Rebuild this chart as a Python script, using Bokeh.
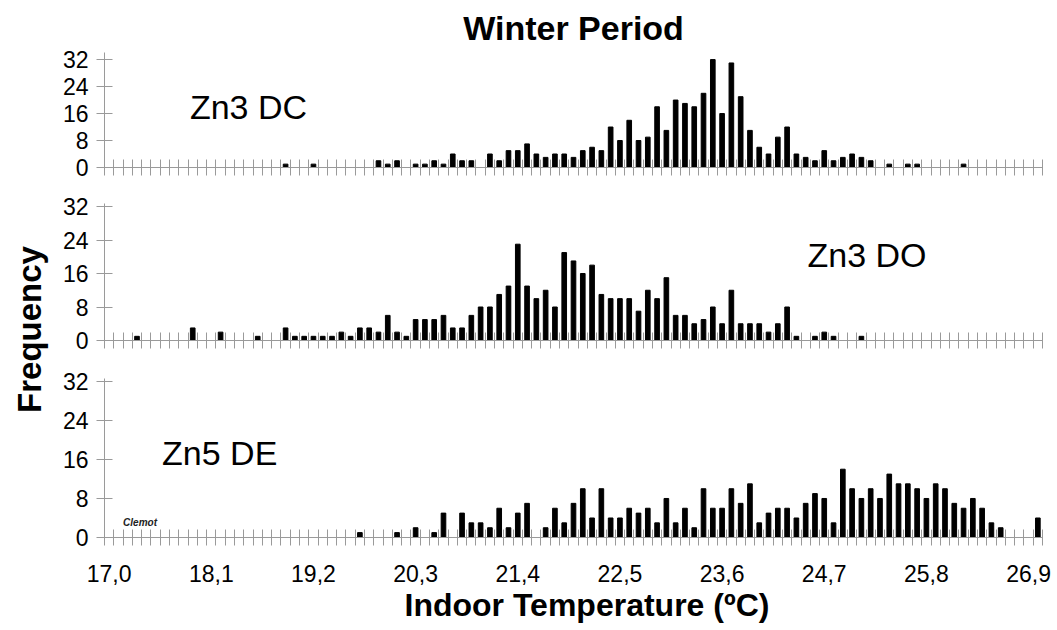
import math
from bokeh.plotting import figure
from bokeh.layouts import row, column
from bokeh.models import Range1d, FixedTicker, CustomJSTickFormatter, Label, Title
from bokeh.embed import file_html
from bokeh.resources import INLINE

# ---------------- data ----------------
temps = [round(17.0 + 0.1 * k, 1) for k in range(101)]          # categories 17,0 ... 27,0
tick_values = [17.0, 18.1, 19.2, 20.3, 21.4, 22.5, 23.6, 24.7, 25.8, 26.9]
y_ticks = [0, 8, 16, 24, 32]

zn3_dc = [0, 0, 0, 0, 0, 0, 0, 0, 0, 0,
          0, 0, 0, 0, 0, 0, 0, 0, 0, 1,
          0, 0, 1, 0, 0, 0, 0, 0, 0, 2,
          1, 2, 0, 1, 1, 2, 1, 4, 2, 2,
          0, 4, 2, 5, 5, 7, 4, 3, 4, 4,
          3, 5, 6, 5, 12, 8, 14, 8, 9, 18,
          11, 20, 19, 18, 22, 32, 16, 31, 21, 11,
          6, 4, 9, 12, 4, 3, 2, 5, 2, 3,
          4, 3, 2, 0, 1, 0, 1, 1, 0, 0,
          0, 0, 1, 0, 0, 0, 0, 0, 0, 0,
          0]

zn3_do = [0, 0, 0, 1, 0, 0, 0, 0, 0, 3,
          0, 0, 2, 0, 0, 0, 1, 0, 0, 3,
          1, 1, 1, 1, 1, 2, 1, 3, 3, 2,
          6, 2, 1, 5, 5, 5, 6, 3, 3, 6,
          8, 8, 11, 13, 23, 13, 10, 12, 8, 21,
          19, 16, 18, 11, 10, 10, 10, 7, 12, 10,
          15, 6, 6, 4, 5, 8, 4, 12, 4, 4,
          4, 2, 4, 8, 1, 0, 1, 2, 1, 0,
          0, 1, 0, 0, 0, 0, 0, 0, 0, 0,
          0, 0, 0, 0, 0, 0, 0, 0, 0, 0,
          0]

zn5_de = [0, 0, 0, 0, 0, 0, 0, 0, 0, 0,
          0, 0, 0, 0, 0, 0, 0, 0, 0, 0,
          0, 0, 0, 0, 0, 0, 0, 1, 0, 0,
          0, 1, 0, 2, 0, 1, 5, 0, 5, 3,
          3, 2, 6, 2, 5, 7, 0, 2, 6, 3,
          7, 10, 4, 10, 4, 4, 6, 5, 6, 3,
          8, 3, 6, 2, 10, 6, 6, 10, 7, 11,
          3, 5, 6, 6, 4, 7, 9, 8, 3, 14,
          10, 8, 10, 8, 13, 11, 11, 10, 8, 11,
          10, 7, 6, 8, 6, 3, 2, 0, 0, 0,
          4]

panel_names = ["Zn3 DC", "Zn3 DO", "Zn5 DE"]

# ---------------- styling helpers ----------------
FONT = "Liberation Sans"
AXIS_GREY = "#9a9a9a"
X0, X1 = 16.95, 27.05
boundaries = [round(t - 0.05, 2) for t in temps] + [27.05]


def make_panel(vals, height, top_b, bottom_b, y_end, show_labels):
    p = figure(width=1007, height=height,
               x_range=Range1d(X0, X1), y_range=Range1d(0, y_end),
               output_backend="svg", toolbar_location=None,
               min_border_left=54, min_border_right=15,
               min_border_top=top_b, min_border_bottom=bottom_b)
    p.vbar(x=temps, top=vals, width=0.05, color="black", line_color="black")
    p.grid.visible = False
    p.outline_line_color = None
    p.background_fill_color = "white"
    p.border_fill_color = "white"

    ya = p.yaxis[0]
    ya.ticker = FixedTicker(ticks=y_ticks)
    ya.major_tick_in = 8
    ya.major_tick_out = 8
    ya.minor_tick_line_color = None
    ya.axis_line_color = AXIS_GREY
    ya.major_tick_line_color = AXIS_GREY
    ya.major_label_text_font = FONT
    ya.major_label_text_font_size = "23px"
    ya.major_label_text_color = "black"
    ya.major_label_standoff = 8

    xa = p.xaxis[0]
    if show_labels:
        xa.ticker = FixedTicker(ticks=tick_values, minor_ticks=boundaries)
        xa.formatter = CustomJSTickFormatter(code="return tick.toFixed(1).replace('.', ',');")
        xa.major_label_text_font = FONT
        xa.major_label_text_color = "black"
        xa.major_label_text_font_size = "23px"
        xa.major_label_standoff = 19
    else:
        xa.ticker = FixedTicker(ticks=[], minor_ticks=boundaries)
        xa.major_label_standoff = 0
    xa.major_tick_in = 0
    xa.major_tick_out = 0
    xa.minor_tick_in = 8
    xa.minor_tick_out = 8
    xa.minor_tick_line_color = AXIS_GREY
    xa.axis_line_color = AXIS_GREY
    return p


p1 = make_panel(zn3_dc, 185, 52, 18, 34.1, False)
p2 = make_panel(zn3_do, 173, 18, 18, 32.72, False)
p3 = make_panel(zn5_de, 272, 20, 93, 32.6, True)

t = Title(text="Winter Period", align="center", text_font=FONT, text_color="black",
          text_font_size="34px", text_font_style="bold", standoff=11)
p1.add_layout(t, "above")

xt = Title(text="Indoor Temperature (ºC)", align="left", offset=300, text_font=FONT,
           text_color="black", text_font_size="32px", text_font_style="bold", standoff=0)
p3.add_layout(xt, "below")

for p, name, (lx, ly) in zip([p1, p2, p3], panel_names,
                             [(17.87, 17.9), (24.52, 20.4), (17.57, 17.3)]):
    p.add_layout(Label(x=lx, y=ly, text=name, text_font=FONT,
                       text_font_size="34px", text_baseline="alphabetic",
                       text_align="left", text_color="black"))

p3.add_layout(Label(x=17.15, y=3.0, text="Clemot", text_font=FONT,
                    text_font_size="10px", text_font_style="bold italic",
                    text_baseline="alphabetic", text_color="#222222"))

# y-axis title strip
pl = figure(width=50, height=630, x_range=Range1d(0, 50), y_range=Range1d(0, 630),
            output_backend="svg", toolbar_location=None,
            x_axis_type=None, y_axis_type=None,
            min_border_left=0, min_border_right=0, min_border_top=0, min_border_bottom=0)
pl.grid.visible = False
pl.outline_line_color = None
pl.add_layout(Label(x=29, y=301, text="Frequency", text_font=FONT, text_color="black",
                    text_font_size="33px", text_font_style="bold", angle=math.pi / 2,
                    text_align="center", text_baseline="middle"))

layout = row(pl, column(p1, p2, p3))

open("out.html", "w").write(file_html(layout, INLINE))
